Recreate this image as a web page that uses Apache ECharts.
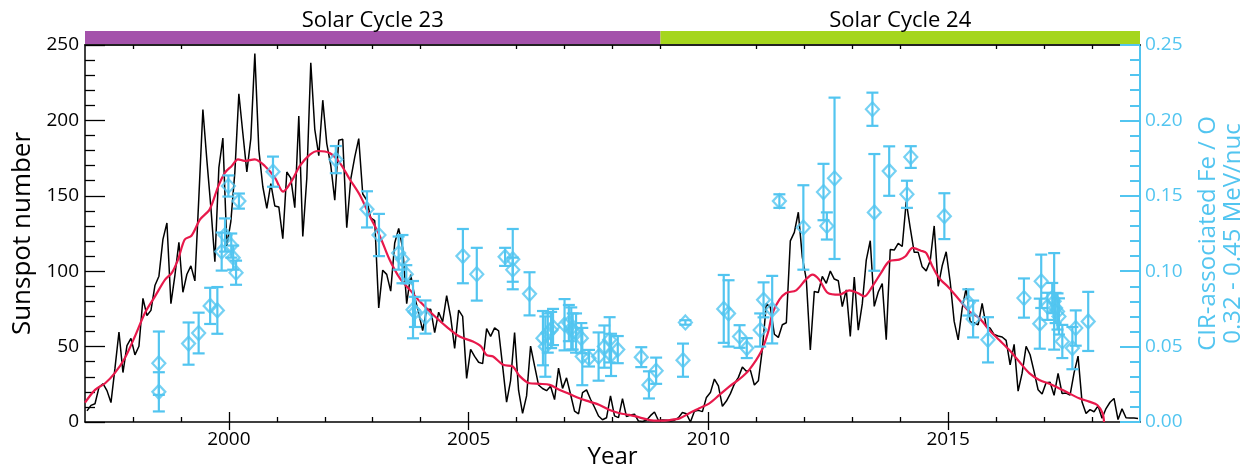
<!DOCTYPE html>
<html>
<head>
<meta charset="utf-8">
<script src="https://cdn.jsdelivr.net/npm/echarts@6/dist/echarts.min.js"></script>
<style>html,body{margin:0;padding:0;background:#fff;}#c{width:1252px;height:470px;}</style>
</head>
<body>
<div id="c"></div>
<script>
// ---------- data ----------
const sunspotStartYear = 1997;
const sunspotMonthly = [
  7.4, 11.0, 12.1, 23.0, 25.4, 20.8, 12.9, 35.7, 59.7, 32.8, 50.7, 55.5,
  44.5, 50.2, 82.0, 70.6, 74.0, 90.5, 96.7, 121.1, 132.0, 78.5, 97.3, 119.2,
  86.0, 98.0, 103.5, 93.6, 149.6, 207.2, 173.5, 142.3, 106.3, 168.7, 188.3, 116.8,
  133.1, 165.7, 217.7, 191.5, 165.9, 188.0, 244.3, 180.5, 156.0, 141.6, 158.1, 143.3,
  142.6, 121.5, 165.8, 161.7, 142.1, 202.9, 123.0, 161.5, 238.2, 194.1, 176.6, 213.4,
  184.6, 170.2, 147.1, 186.9, 187.5, 128.8, 161.0, 175.6, 187.9, 151.2, 147.2, 135.3,
  133.5, 75.7, 100.7, 97.9, 86.8, 118.7, 128.3, 115.4, 78.5, 97.8, 82.9, 72.2,
  60.6, 74.6, 74.8, 59.2, 72.8, 66.5, 83.8, 69.7, 48.8, 74.2, 70.1, 28.9,
  48.1, 43.5, 39.6, 38.7, 61.9, 56.8, 62.4, 60.5, 37.2, 13.2, 27.5, 59.3,
  20.9, 5.7, 17.3, 50.3, 37.2, 24.5, 22.2, 20.8, 23.7, 14.9, 35.7, 22.3,
  29.3, 18.4, 7.2, 5.4, 19.5, 21.3, 15.1, 9.8, 4.0, 1.5, 2.8, 17.3,
  4.1, 2.9, 15.5, 3.6, 4.6, 5.2, 0.6, 0.3, 1.2, 4.2, 6.6, 1.0,
  1.3, 1.2, 0.6, 1.2, 2.9, 6.3, 5.5, 0.0, 7.1, 7.7, 6.9, 16.3,
  19.5, 28.5, 24.0, 10.4, 13.9, 18.8, 25.2, 29.6, 36.4, 33.6, 34.4, 24.5,
  27.3, 48.3, 78.6, 76.1, 58.2, 56.1, 64.5, 65.8, 120.1, 125.7, 139.1, 109.3,
  94.4, 47.8, 86.6, 85.9, 96.5, 92.0, 100.1, 94.8, 93.7, 76.5, 87.6, 56.8,
  96.1, 60.9, 78.3, 107.3, 120.2, 76.7, 86.2, 91.8, 54.5, 114.4, 114.0, 118.5,
  116.4, 146.1, 128.7, 112.5, 112.5, 102.9, 100.2, 106.9, 130.0, 90.0, 103.6, 112.9,
  93.0, 66.7, 54.5, 75.3, 88.8, 66.5, 65.8, 64.4, 78.6, 63.6, 62.2, 58.0,
  57.0, 56.4, 54.1, 37.9, 51.5, 20.5, 32.4, 50.2, 44.6, 33.4, 21.4, 18.5,
  26.1, 26.4, 17.7, 32.3, 18.9, 19.2, 17.8, 32.6, 43.7, 13.2, 5.7, 8.2,
  6.8, 10.7, 2.5, 8.9, 13.1, 15.6, 1.6, 8.7, 2.8, 2.6, 2.6, 2.4
];

const smoothedYears = [
  1997.0, 1997.21, 1997.42, 1997.62, 1997.83, 1998.04, 1998.25, 1998.46, 1998.67, 1998.81, 1998.94,
  1999.08, 1999.22, 1999.40, 1999.60, 1999.78, 1999.92, 2000.06, 2000.19, 2000.33, 2000.54, 2000.75,
  2000.96, 2001.13, 2001.31, 2001.48, 2001.69, 2001.86, 2002.10, 2002.31, 2002.52, 2002.73, 2002.94,
  2003.15, 2003.35, 2003.56, 2003.77, 2003.98, 2004.26, 2004.53, 2004.81, 2005.09, 2005.26, 2005.37,
  2005.51, 2005.72, 2005.92, 2006.06, 2006.27, 2006.48, 2006.69, 2006.90, 2007.10, 2007.31, 2007.52,
  2007.73, 2007.94, 2008.15, 2008.35, 2008.56, 2008.77, 2008.98, 2009.19, 2009.40, 2009.60, 2009.81,
  2010.02, 2010.23, 2010.44, 2010.65, 2010.85, 2011.10, 2011.24, 2011.34, 2011.48, 2011.62, 2011.83,
  2012.03, 2012.17, 2012.31, 2012.49, 2012.73, 2012.94, 2013.11, 2013.25, 2013.42, 2013.60, 2013.77,
  2013.98, 2014.11, 2014.26, 2014.43, 2014.54, 2014.67, 2014.81, 2015.02, 2015.23, 2015.44, 2015.65,
  2015.85, 2016.06, 2016.27, 2016.48, 2016.69, 2016.90, 2017.17, 2017.45, 2017.73, 2017.94, 2018.11,
  2018.22, 2018.25
];
const smoothedValues = [
  12.8, 21.3, 25.7, 32.4, 42.3, 56.7, 72.3, 83.3, 94.4, 98.9, 107.7,
  121, 123.5, 134.3, 141, 156.4, 165.4, 169.8, 174.2, 173.1, 174.2, 169.8,
  162, 152.8, 159.8, 169.8, 177.3, 179.7, 178.4, 172, 161, 150.5, 136.5,
  123.2, 107.7, 95.5, 87.8, 80, 71.1, 63.4, 56.7, 53.4, 50.1, 44.5,
  43.4, 37.9, 36.8, 30.6, 25.7, 25.3, 24.6, 21.3, 18.6, 15.7, 13.5,
  11.3, 8, 5.8, 4.7, 3.1, 1.3, 0.9, 1.3, 2.4, 5.8, 9.1,
  12.4, 18, 23.7, 28.5, 34.6, 46.7, 59, 72.3, 81.1, 85.6, 87.3,
  94.4, 97.7, 94.4, 85.6, 84.4, 87.3, 85.6, 83.3, 90, 98.9, 106.6,
  107.7, 109.9, 115.5, 113.6, 112.2, 103.3, 95.5, 88.9, 81.1, 73.3, 68.9,
  61.2, 54.5, 47.9, 40.1, 32.4, 27.9, 24.6, 20.2, 15.7, 13.5, 11.3,
  5.8, 0
];

const feoYears = [
  1998.54, 1998.54, 1999.16, 1999.37, 1999.61, 1999.76, 1999.85, 1999.92, 1999.99, 2000.05, 2000.09,
  2000.15, 2000.21, 2000.92, 2002.23, 2002.88, 2003.13, 2003.54, 2003.62, 2003.70, 2003.84, 2003.88,
  2004.10, 2004.88, 2005.17, 2005.76, 2005.92, 2005.92, 2006.27, 2006.55, 2006.60, 2006.65, 2006.72,
  2006.76, 2007.00, 2007.09, 2007.14, 2007.17, 2007.24, 2007.35, 2007.37, 2007.51, 2007.71, 2007.83,
  2007.94, 2007.97, 2008.11, 2008.60, 2008.76, 2008.91, 2009.47, 2009.52, 2010.32, 2010.42, 2010.65,
  2010.80, 2011.08, 2011.15, 2011.33, 2011.48, 2011.98, 2012.40, 2012.47, 2012.63, 2013.42, 2013.46,
  2013.77, 2014.14, 2014.22, 2014.92, 2015.42, 2015.52, 2015.83, 2016.58, 2016.91, 2016.94, 2017.07,
  2017.17, 2017.21, 2017.24, 2017.28, 2017.31, 2017.38, 2017.59, 2017.66, 2017.92
];
const feoValues = [
  0.039, 0.020, 0.052, 0.059, 0.077, 0.074, 0.113, 0.124, 0.1565, 0.117, 0.109,
  0.099, 0.1465, 0.166, 0.174, 0.141, 0.124, 0.112, 0.108, 0.098, 0.0745, 0.073,
  0.0696, 0.110, 0.098, 0.1095, 0.108, 0.101, 0.085, 0.0556, 0.050, 0.059, 0.061,
  0.063, 0.0645, 0.0656, 0.062, 0.060, 0.059, 0.0556, 0.0434, 0.0423, 0.0434, 0.050,
  0.0545, 0.0445, 0.048, 0.043, 0.0246, 0.034, 0.041, 0.066, 0.075, 0.072, 0.0567,
  0.049, 0.061, 0.081, 0.0745, 0.1465, 0.129, 0.1525, 0.130, 0.1616, 0.2074, 0.139,
  0.1664, 0.151, 0.1757, 0.1365, 0.0793, 0.0683, 0.0545, 0.0822, 0.0652, 0.0933, 0.0767,
  0.0822, 0.080, 0.0756, 0.0733, 0.070, 0.0534, 0.049, 0.0623, 0.0667
];
const feoErrors = [
  0.021, 0.013, 0.014, 0.0135, 0.012, 0.0155, 0.0126, 0.011, 0.007, 0.008, 0.008,
  0.008, 0.005, 0.010, 0.009, 0.012, 0.014, 0.011, 0.016, 0.006, 0.019, 0.010,
  0.011, 0.018, 0.0175, 0.006, 0.020, 0.008, 0.0143, 0.018, 0.020, 0.013, 0.012,
  0.012, 0.017, 0.012, 0.014, 0.012, 0.013, 0.010, 0.019, 0.0055, 0.016, 0.014,
  0.015, 0.014, 0.009, 0.0066, 0.009, 0.0087, 0.011, 0.0015, 0.0225, 0.022, 0.0075,
  0.0066, 0.011, 0.0116, 0.0224, 0.0045, 0.028, 0.0187, 0.009, 0.0535, 0.011, 0.0387,
  0.0164, 0.009, 0.0072, 0.0152, 0.0087, 0.0122, 0.015, 0.013, 0.0166, 0.0177, 0.009,
  0.010, 0.032, 0.010, 0.012, 0.012, 0.011, 0.014, 0.0117, 0.0196
];

const cycleNames = ['Solar Cycle 23', 'Solar Cycle 24'];
const cycleStart = [1997, 2009];
const cycleEnd = [2009, 2019];

const yearTickLabels = [2000, 2005, 2010, 2015];
const minorYearTicks = [1998, 1999, 2001, 2002, 2003, 2004, 2006, 2007, 2008, 2009, 2011, 2012, 2013, 2014, 2016, 2017, 2018];

// ---------- styles ----------
const FONT = 'Open Sans';
const CYAN = '#52c5f0';
const RED = '#e8194b';
const cycleColors = ['#a452ab', '#a5d61d'];

const sunspotData = sunspotMonthly.map((v, i) => [sunspotStartYear + (i + 0.5) / 12, v]);
const smoothedData = smoothedYears.map((y, i) => [y, smoothedValues[i]]);
const feoData = feoYears.map((y, i) => [y, feoValues[i], feoErrors[i]]);
const cycleData = cycleNames.map((n, i) => [cycleStart[i], cycleEnd[i], i]);

const X_MIN = 1997, X_MAX = 2019;
function xAx(opts) {
  return Object.assign({
    type: 'value', gridIndex: 0, min: X_MIN, max: X_MAX,
    splitLine: { show: false },
    axisLine: { show: false },
    axisTick: { show: false },
    axisLabel: { show: false }
  }, opts);
}

const chart = echarts.init(document.getElementById('c'));
chart.setOption({
  animation: false,
  backgroundColor: '#fff',
  textStyle: { fontFamily: FONT },
  grid: [
    { left: 85, right: 112, top: 45, bottom: 48, containLabel: false, outerBoundsMode: 'none' },
    { left: 85, right: 112, top: 31, height: 13, containLabel: false, outerBoundsMode: 'none' }
  ],
  xAxis: [
    xAx({ position: 'bottom',
      axisLine: { show: true, onZero: false, lineStyle: { color: '#000', width: 1.5 } },
      axisTick: { show: true, inside: true, length: 5, customValues: minorYearTicks, lineStyle: { color: '#000', width: 1.3 } },
      name: 'Year', nameLocation: 'middle', nameGap: 23,
      nameTextStyle: { fontFamily: FONT, fontSize: 24, color: '#000' }
    }),
    xAx({ position: 'bottom',
      axisTick: { show: true, inside: true, length: 10, customValues: yearTickLabels, lineStyle: { color: '#000', width: 1.3 } },
      axisLabel: { show: true, customValues: yearTickLabels, formatter: v => String(v), fontFamily: FONT, fontSize: 19, color: '#000', margin: 8 }
    }),
    xAx({ position: 'top',
      axisLine: { show: true, onZero: false, lineStyle: { color: '#222', width: 2 } },
      axisTick: { show: true, inside: true, length: 4, customValues: minorYearTicks, lineStyle: { color: '#000', width: 1.3 } }
    }),
    xAx({ position: 'top',
      axisTick: { show: true, inside: true, length: 8, customValues: yearTickLabels, lineStyle: { color: '#000', width: 1.3 } }
    }),
    xAx({ gridIndex: 1 })
  ],
  yAxis: [
    { type: 'value', gridIndex: 0, position: 'left', min: 0, max: 250, interval: 50,
      splitLine: { show: false },
      axisLine: { show: true, lineStyle: { color: '#000', width: 1.5 } },
      axisTick: { show: true, inside: true, length: 20, lineStyle: { color: '#000', width: 1.3 } },
      minorTick: { show: true, splitNumber: 5, length: 10, lineStyle: { color: '#000', width: 1.3 } },
      axisLabel: { fontFamily: FONT, fontSize: 19, color: '#000', margin: 6 },
      name: 'Sunspot number', nameLocation: 'middle', nameGap: 47,
      nameTextStyle: { fontFamily: FONT, fontSize: 26, color: '#000' }
    },
    { type: 'value', gridIndex: 0, position: 'right', min: 0, max: 0.25, interval: 0.05,
      splitLine: { show: false },
      axisLine: { show: true, lineStyle: { color: CYAN, width: 2 } },
      axisTick: { show: true, inside: true, length: 20, lineStyle: { color: CYAN, width: 2 } },
      minorTick: { show: true, splitNumber: 5, length: 10, lineStyle: { color: CYAN, width: 2 } },
      axisLabel: { fontFamily: FONT, fontSize: 19, color: CYAN, margin: 5, formatter: v => v.toFixed(2) },
      name: 'CIR-associated Fe / O\n0.32 - 0.45 MeV/nuc', nameLocation: 'middle', nameGap: 56,
      nameTextStyle: { fontFamily: FONT, fontSize: 24, color: CYAN, lineHeight: 25 }
    },
    { type: 'value', gridIndex: 1, min: 0, max: 1, show: false }
  ],
  series: [
    { type: 'custom', xAxisIndex: 4, yAxisIndex: 2, data: cycleData, silent: true,
      renderItem: (params, api) => {
        const p0 = api.coord([api.value(0), 1]);
        const p1 = api.coord([api.value(1), 0]);
        const idx = api.value(2);
        return { type: 'group', children: [
          { type: 'rect', shape: { x: p0[0], y: p0[1], width: p1[0] - p0[0], height: p1[1] - p0[1] },
            style: { fill: cycleColors[idx] } },
          { type: 'text', x: (p0[0] + p1[0]) / 2, y: p0[1] - 10,
            style: { text: cycleNames[idx], fontFamily: FONT, fontSize: 22, fill: '#000', align: 'center', verticalAlign: 'middle' } }
        ]};
      }
    },
    { type: 'line', xAxisIndex: 0, yAxisIndex: 0, data: sunspotData, showSymbol: false, symbol: 'none',
      lineStyle: { color: '#000', width: 1.5 }, z: 2 },
    { type: 'line', xAxisIndex: 0, yAxisIndex: 0, data: smoothedData, showSymbol: false, symbol: 'none', smooth: 0.3,
      lineStyle: { color: RED, width: 2.2 }, z: 3 },
    { type: 'custom', xAxisIndex: 0, yAxisIndex: 1, data: feoData, z: 4,
      renderItem: (params, api) => {
        const x = api.value(0), v = api.value(1), e = api.value(2);
        const top = api.coord([x, v + e]);
        const bot = api.coord([x, v - e]);
        const hw = 6;
        const st = { stroke: CYAN, lineWidth: 2.2 };
        return { type: 'group', children: [
          { type: 'line', shape: { x1: top[0], y1: top[1], x2: bot[0], y2: bot[1] }, style: st },
          { type: 'line', shape: { x1: top[0] - hw, y1: top[1], x2: top[0] + hw, y2: top[1] }, style: st },
          { type: 'line', shape: { x1: bot[0] - hw, y1: bot[1], x2: bot[0] + hw, y2: bot[1] }, style: st }
        ]};
      },
      encode: { x: 0, y: 1 }
    },
    { type: 'scatter', xAxisIndex: 0, yAxisIndex: 1, data: feoData.map(d => [d[0], d[1]]), z: 5,
      symbol: 'diamond', symbolSize: [13, 14],
      itemStyle: { color: 'rgba(255,255,255,0)', borderColor: CYAN, borderWidth: 2.2 } }
  ]
});
</script>
</body>
</html>
